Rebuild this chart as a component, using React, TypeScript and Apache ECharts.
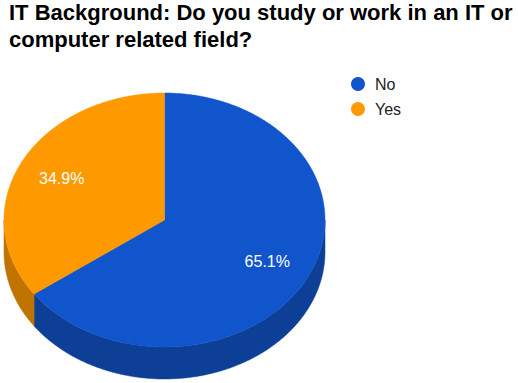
import React, { useEffect, useRef } from "react";
import * as echarts from "echarts";

const categories = ["No", "Yes"];
const values = [65.1, 34.9];
const topColors = ["#1155cc", "#ff9900"];
const sideColors = ["#0d3f96", "#c07400"];
const titleText = "IT Background: Do you study or work in an IT or\ncomputer related field?";

const CX = 164.5;
const CY = 220;
const RX = 160.5;
const RY = 127;
const DEPTH = 32;
const FONT = "Arial, 'Liberation Sans', sans-serif";

function pt(deg: number, dy = 0): number[] {
  const r = (deg * Math.PI) / 180;
  return [CX + RX * Math.sin(r), CY - RY * Math.cos(r) + dy];
}

function arc(a: number, b: number, dy = 0): number[][] {
  const out: number[][] = [];
  const n = Math.max(2, Math.ceil(Math.abs(b - a) / 0.5));
  for (let i = 0; i <= n; i++) out.push(pt(a + ((b - a) * i) / n, dy));
  return out;
}

export default function App() {
  const ref = useRef<HTMLDivElement>(null);
  useEffect(() => {
    document.body.style.margin = "0";
    if (!ref.current) return;
    const chart = echarts.init(ref.current, undefined, { renderer: "svg" });
    const total = values.reduce((s, v) => s + v, 0);
    const starts: number[] = [];
    let acc = 0;
    values.forEach((v) => {
      starts.push(acc);
      acc += v;
    });

    const series = categories.map((name, i) => ({
      type: "custom",
      name,
      coordinateSystem: "none",
      itemStyle: { color: topColors[i] },
      data: [[values[i], starts[i], total]],
      renderItem: (_params: any, api: any) => {
        const v = api.value(0);
        const s = api.value(1);
        const t = api.value(2);
        const a1 = (s / t) * 360;
        const a2 = ((s + v) / t) * 360;
        const children: any[] = [];
        const f1 = Math.max(a1, 90);
        const f2 = Math.min(a2, 270);
        if (f2 > f1) {
          const topArc = arc(f1, f2, 0);
          const botArc = arc(f2, f1, DEPTH);
          children.push({
            type: "polygon",
            shape: { points: topArc.concat(botArc) },
            style: { fill: sideColors[i], stroke: sideColors[i], lineWidth: 0.5 },
          });
        }
        children.push({
          type: "polygon",
          shape: { points: [[CX, CY]].concat(arc(a1, a2, 0)) },
          style: { fill: topColors[i], stroke: topColors[i], lineWidth: 0.5 },
        });
        const mid = (a1 + a2) / 2;
        const r = (mid * Math.PI) / 180;
        const f = 0.72;
        children.push({
          type: "text",
          x: CX + f * RX * Math.sin(r),
          y: CY - f * RY * Math.cos(r),
          style: {
            text: ((v / t) * 100).toFixed(1) + "%",
            fill: "#ffffff",
            fontSize: 16,
            fontFamily: FONT,
            align: "center",
            verticalAlign: "middle",
          },
        });
        return { type: "group", children };
      },
    }));

    chart.setOption({
      animation: false,
      backgroundColor: "#ffffff",
      title: {
        text: titleText,
        left: 4,
        top: -6,
        textStyle: {
          fontSize: 22,
          fontWeight: "bold",
          color: "#000000",
          fontFamily: FONT,
          lineHeight: 27,
        },
      },
      legend: {
        orient: "vertical",
        left: 346,
        top: 71,
        icon: "circle",
        itemWidth: 14,
        itemHeight: 14,
        itemGap: 9,
        data: categories,
        textStyle: {
          fontSize: 16,
          color: "#222222",
          fontFamily: FONT,
          padding: [0, 0, 0, 5],
        },
      },
      series,
    } as any);
    return () => chart.dispose();
  }, []);
  return <div ref={ref} style={{ width: 518, height: 383 }} />;
}
